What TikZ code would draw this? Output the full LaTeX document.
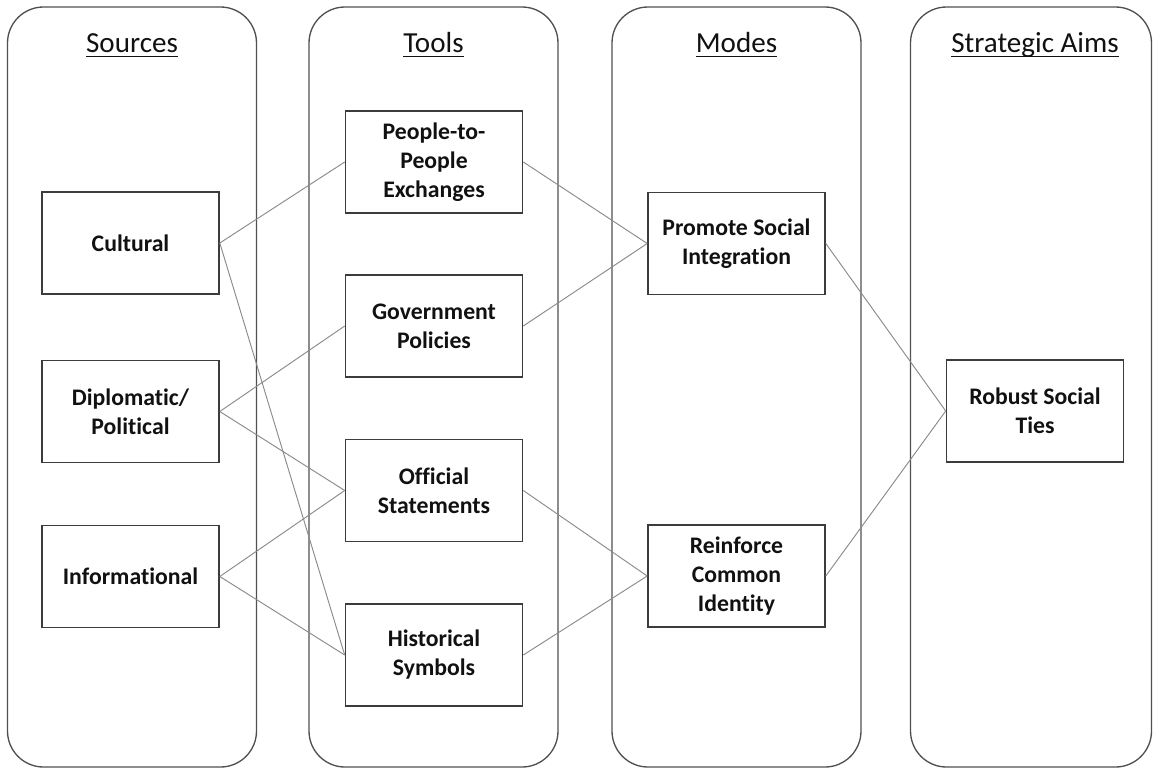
\documentclass[tikz,border=0pt]{standalone}
\usepackage{fontspec}
\setmainfont{Carlito}[Ligatures={NoCommon,NoRare,NoDiscretionary}]
\definecolor{boxline}{HTML}{3C3C3C}
\definecolor{colline}{HTML}{505050}
\definecolor{conline}{HTML}{8A8A8A}
\definecolor{txt}{HTML}{111111}
\newcommand\hdrul[1]{\setbox0\hbox{#1}\rlap{\rule[-3.9pt]{\wd0}{1.0pt}}\box0}
\begin{document}
\begin{tikzpicture}[x=0.75pt,y=-0.75pt,
  column/.style={draw=colline,line width=1pt,rounded corners=27pt,minimum width=186.75pt,minimum height=570pt,inner sep=0pt},
  header/.style={anchor=base,text=txt,font=\fontsize{21.8}{26}\selectfont,inner sep=0pt},
  itembox/.style={draw=boxline,line width=1.2pt,fill=white,minimum width=132.75pt,minimum height=76.5pt,align=center,text=txt,font=\fontsize{17.8}{21.75}\selectfont\bfseries,inner sep=2pt},
  link/.style={draw=conline,line width=0.7pt}]
\useasboundingbox (0,0) rectangle (1154,768);
% columns
\node[column] (colS) at (132,387) {};
\node[column] (colT) at (433.5,387) {};
\node[column] (colM) at (736.5,387) {};
\node[column,minimum width=180.75pt] (colA) at (1031,387) {};
% headers
\node[header] (hS) at (132,52) {\hdrul{Sources}};
\node[header] (hT) at (433.5,52) {\hdrul{Tools}};
\node[header] (hM) at (736.5,52) {\hdrul{Modes}};
\node[header] (hA) at (1035,52) {\hdrul{Strategic Aims}};
% boxes
\node[itembox] (cul) at (130.5,243) {Cultural};
\node[itembox] (dip) at (130.5,411.5) {Diplomatic/\\Political};
\node[itembox] (inf) at (130.5,576.5) {Informational};
\node[itembox] (ptp) at (434,162) {People-to-\\People\\Exchanges};
\node[itembox] (gov) at (434,326) {Government\\Policies};
\node[itembox] (off) at (434,490.5) {Official\\Statements};
\node[itembox] (his) at (434,655) {Historical\\Symbols};
\node[itembox] (pro) at (736.5,243.5) {Promote Social\\Integration};
\node[itembox] (rei) at (736.5,576) {Reinforce\\Common\\Identity};
\node[itembox] (rob) at (1035,411) {Robust Social\\Ties};
% connectors
\draw[link] (cul.east) -- (ptp.west);
\draw[link] (cul.east) -- (his.west);
\draw[link] (dip.east) -- (gov.west);
\draw[link] (dip.east) -- (off.west);
\draw[link] (inf.east) -- (off.west);
\draw[link] (inf.east) -- (his.west);
\draw[link] (ptp.east) -- (pro.west);
\draw[link] (gov.east) -- (pro.west);
\draw[link] (off.east) -- (rei.west);
\draw[link] (his.east) -- (rei.west);
\draw[link] (pro.east) -- (rob.west);
\draw[link] (rei.east) -- (rob.west);
\end{tikzpicture}
\end{document}
